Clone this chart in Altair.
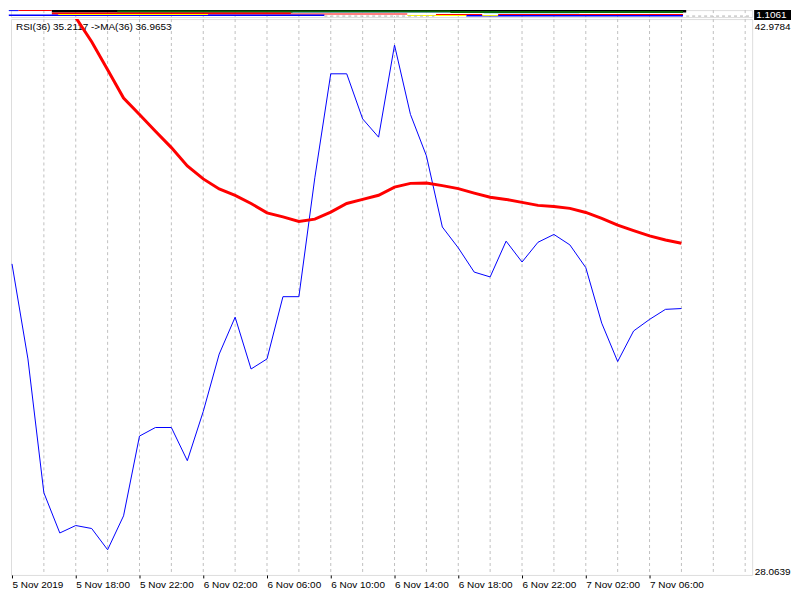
import altair as alt
import pandas as pd

# ---------------- data ----------------
time_labels = ["5 Nov 2019", "5 Nov 18:00", "5 Nov 22:00", "6 Nov 02:00", "6 Nov 06:00",
               "6 Nov 10:00", "6 Nov 14:00", "6 Nov 18:00", "6 Nov 22:00", "7 Nov 02:00",
               "7 Nov 06:00"]
label_ticks = [0, 4, 8, 12, 16, 20, 24, 28, 32, 36, 40]
grid_ticks = list(range(2, 47, 2))

rsi_values = [36.41, 33.86, 30.27, 29.19, 29.39, 29.31, 28.74, 29.65, 31.79, 32.02, 32.02,
              31.13, 32.45, 33.99, 34.98, 33.59, 33.86, 35.53, 35.53, 38.72, 41.51, 41.51,
              40.30, 39.81, 42.28, 40.42, 39.31, 37.40, 36.84, 36.19, 36.06, 37.02, 36.46,
              36.99, 37.20, 36.92, 36.31, 34.82, 33.79, 34.61, 34.92, 35.19, 35.2117]
ma_start = 2
ma_values = [44.31, 43.67, 43.02, 42.37, 41.62, 40.86, 40.42, 39.97, 39.53, 39.04, 38.69,
             38.42, 38.25, 38.03, 37.78, 37.67, 37.55, 37.61, 37.80, 38.03, 38.14, 38.25,
             38.47, 38.57, 38.58, 38.51, 38.43, 38.31, 38.20, 38.14, 38.06, 37.98, 37.95,
             37.90, 37.79, 37.63, 37.45, 37.30, 37.16, 37.05, 36.9653]
y_min, y_max = 28.0639, 42.9784
legend_text = "RSI(36) 35.2117  ->MA(36) 36.9653"
price_text = "1.1061"

# squeezed main (price) window: bands of the compressed indicator lines
seg_start = [2.5, 6.6, 27.5, 17.6, 29.6, 0.4, 2.5, 17.5, 26.6, 30.5, -0.2, -0.2, 28.5, 2.9, 24.8, 29.5]
seg_end = [42.3, 27.5, 42.1, 27.5, 35.6, 2.5, 17.5, 24.8, 29.5, 42.1, 0.4, 19.6, 42.1, 12.3, 28.5, 30.5]
seg_top = [0.0, 0.5, 1.0, 2.5, 3.0, 0.0, 2.5, 3.5, 4.0, 4.0, 0.0, 4.5, 5.0, 4.0, 5.0, 5.0]
seg_bot = [2.5, 2.5, 3.0, 3.0, 3.5, 1.0, 4.5, 4.5, 5.0, 5.0, 1.0, 6.0, 6.5, 5.0, 6.0, 6.0]
seg_color = ["#000000", "#0a6a0a", "#0a6a0a", "#87cefa", "#87cefa",
             "#ff0000", "#ff0000", "#ff0000", "#ff0000", "#ff0000",
             "#0000ff", "#0000ff", "#0000ff", "#ffff00", "#ffff00", "#ffff00"]
dash_start = [19.6, 42.3]
dash_end = [26.5, 46.4]

# ---------------- frames ----------------
rsi_df = pd.DataFrame({"i": list(range(len(rsi_values))), "v": rsi_values})
ma_df = pd.DataFrame({"i": list(range(ma_start, ma_start + len(ma_values))), "v": ma_values})
grid_df = pd.DataFrame({"i": grid_ticks})
seg_df = pd.DataFrame({"x": seg_start, "x2": seg_end, "y": seg_top, "y2": seg_bot,
                       "c": seg_color, "o": list(range(len(seg_start)))})
dash_df = pd.DataFrame({"x": dash_start, "x2": dash_end, "y": [6.0, 6.0]})

W = 744
X_DOMAIN = [-0.0625, 46.4375]
xs = alt.Scale(domain=X_DOMAIN, nice=False, zero=False)
label_expr = "[" + ",".join("'" + t + "'" for t in time_labels) + "][round(datum.value/4)]"

# ---------------- top (price) pane ----------------
top_rows = alt.Scale(domain=[0, 7], reverse=True, nice=False, zero=False)
top_grid = alt.Chart(grid_df).mark_rule(color="#c0c0c0", strokeDash=[3, 3]).encode(
    x=alt.X("i:Q", scale=xs, axis=None))
top_segs = alt.Chart(seg_df).mark_rect().encode(
    x=alt.X("x:Q", scale=xs, axis=None), x2="x2:Q",
    y=alt.Y("y:Q", scale=top_rows, axis=None), y2="y2:Q",
    color=alt.Color("c:N", scale=None), order="o:Q")
top_dash = alt.Chart(dash_df).mark_rule(color="#b0b0b0", strokeDash=[3, 3]).encode(
    x=alt.X("x:Q", scale=xs, axis=None), x2="x2:Q",
    y=alt.Y("y:Q", scale=top_rows, axis=None))
top_box = alt.Chart(pd.DataFrame({"t": [price_text]})).mark_rect(color="#000000").encode(
    x=alt.value(W + 2), x2=alt.value(W + 39), y=alt.value(0), y2=alt.value(10))
top_price = alt.Chart(pd.DataFrame({"t": [price_text]})).mark_text(
    color="#ffffff", font="Liberation Sans", fontSize=10, align="left", baseline="middle").encode(
    x=alt.value(W + 4), y=alt.value(5), text="t:N")
top = alt.layer(top_grid, top_segs, top_dash, top_box, top_price).properties(width=W, height=7)

# ---------------- RSI pane ----------------
ys = alt.Scale(domain=[y_min, y_max], nice=False, zero=False)
grid = alt.Chart(grid_df).mark_rule(color="#c0c0c0", strokeDash=[3, 3]).encode(
    x=alt.X("i:Q", scale=xs,
            axis=alt.Axis(values=label_ticks, labelExpr=label_expr, labelAlign="left",
                          grid=False, domain=False, tickSize=3, tickColor="#000000",
                          labelPadding=2, title=None, labelFont="Liberation Sans",
                          labelFontSize=10, labelColor="#000000")))
blue = alt.Chart(rsi_df).mark_line(color="#0000ff", strokeWidth=1, clip=True).encode(
    x=alt.X("i:Q", scale=xs),
    y=alt.Y("v:Q", scale=ys,
            axis=alt.Axis(orient="right", values=[y_min, y_max], format=".4f", labelFlush=True,
                          labelOffset=2, ticks=False, domain=False, grid=False, labelPadding=2,
                          title=None, labelFont="Liberation Sans", labelFontSize=10,
                          labelColor="#000000")))
red = alt.Chart(ma_df).mark_line(color="#ff0000", strokeWidth=3, clip=True).encode(
    x=alt.X("i:Q", scale=xs), y=alt.Y("v:Q", scale=ys))
legend = alt.Chart(pd.DataFrame({"t": [legend_text]})).mark_text(
    font="Liberation Sans", fontSize=10, color="#000000", align="left", baseline="middle").encode(
    x=alt.value(5), y=alt.value(8), text="t:N")
bottom = alt.layer(grid, blue, legend, red).properties(width=W, height=558)

chart = alt.vconcat(top, bottom, spacing=2, bounds="flush").properties(
    padding={"left": 0, "top": 0, "right": 0, "bottom": 0}
).configure_view(stroke="#000000", strokeWidth=1).configure(background="#ffffff")

chart.save("out.html", embed_options={"renderer": "svg", "actions": False})
